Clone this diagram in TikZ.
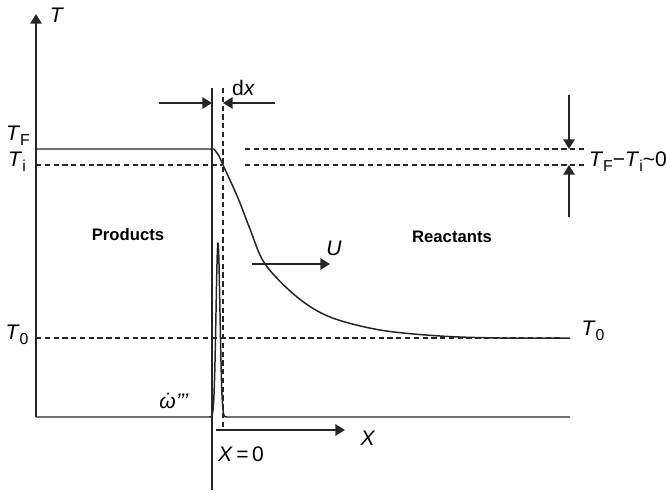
\documentclass[tikz,border=0pt]{standalone}
\usepackage{fontspec}
\setmainfont{Liberation Sans}
\usetikzlibrary{arrows.meta}
\usetikzlibrary{positioning}
\newcommand{\tsub}[1]{\raisebox{-0.45ex}{\fontsize{9}{9}\selectfont #1}}
\tikzset{
axis/.style={
	line width=0.85pt,
	draw=black!85,
	line join=round
},
guide/.style={
	line width=0.65pt,
	draw=black!85,
	dash pattern=on 3pt off 2pt
},
arrow/.style={
	-{Triangle[length=5.5pt,width=6.5pt]},
	line width=0.85pt,
	draw=black!85
},
lbl/.style={
	inner sep=1pt,
	font=\fontsize{12}{14}\selectfont
},
zone/.style={
	inner sep=1pt,
	font=\fontsize{9.5}{11}\selectfont\bfseries
}
}

\begin{document}
\begin{tikzpicture}[x=0.02cm, y=-0.02cm]
\useasboundingbox (0,0) rectangle (666,493);

% axis and reference points
\coordinate (origin) at (36,417);
\coordinate (Ttip) at (36,14);
\coordinate (frontTop) at (212,88);
\coordinate (frontBot) at (212,490);
\coordinate (sliceTop) at (223,88);
\coordinate (sliceBot) at (223,430);
\coordinate (dxL) at (159,103);
\coordinate (dxR) at (275,103);
\coordinate (gapTop) at (569,95);
\coordinate (gapBot) at (569,217);
\coordinate (Ustart) at (252,264);
\coordinate (Uend) at (330,264);
\coordinate (Xstart) at (216,430);
\coordinate (Xend) at (345,430);

\draw[arrow] (origin) -- (Ttip);
\node[lbl] (Tlabel) at (57,15) {\textit{T}};

% flame front and slice dx
\draw[axis] (frontTop) -- (frontBot);
\draw[guide] (sliceTop) -- (sliceBot);
\draw[arrow] (dxL) -- (dxL -| frontTop);
\draw[arrow] (dxR) -- (dxR -| sliceTop);
\node[lbl, anchor=west] (dx) at (230,88) {d\textit{x}};

% temperature levels
\draw[guide] (36,165) -- (222,165);
\draw[guide] (245,149) -- (585,149);
\draw[guide] (245,165) -- (585,165);
\draw[guide] (36,338) -- (563,338);
\draw[arrow] (gapTop) -- (gapTop |- 0,149);
\draw[arrow] (gapBot) -- (gapBot |- 0,165);

\node[lbl] (TF) at (18,136) {\textit{T}\tsub{F}};
\node[lbl] (Ti) at (17,162) {\textit{T}\tsub{i}};
\node[lbl] (T0) at (17,335) {\textit{T}\tsub{0}};
\node[lbl] (T0r) at (593,331) {\textit{T}\tsub{0}};
\node[lbl, anchor=west] (diff) at (587,162)
  {\textit{T}\tsub{F}−\textit{T}\tsub{i}\textasciitilde0};

% temperature profile
\draw[axis] (36,149) -- (214,149)
  plot[smooth, tension=0.55] coordinates {(214,149) (219,156) (223,165) (238,198)
  (250,229) (265,264) (297,297) (330,317) (380,330) (440,336) (500,338) (570,338)};

% reaction rate spike
\draw[axis] (origin) -- (204,417)
  -- plot[domain=204:232, samples=113, smooth] (\x,{417-174*exp(-((\x-218)/2.8)^2)})
  -- (570,417);
\node[lbl] (omega) at (174,401) {\textit{\rlap{\hspace{0.2em}˙}ω’’’}};

% flow and coordinate arrows
\draw[arrow] (Ustart) -- (Uend);
\node[lbl] (U) at (334,248) {\textit{U}};
\draw[arrow] (Xstart) -- (Xend);
\node[lbl] (X) at (368,438) {\textit{X}};
\node[lbl] (X0) at (241,454) {\textit{X}\,=\,0};

\node[zone] (products) at (128,235) {Products};
\node[zone] (reactants) at (452,237) {Reactants};

\end{tikzpicture}
\end{document}
